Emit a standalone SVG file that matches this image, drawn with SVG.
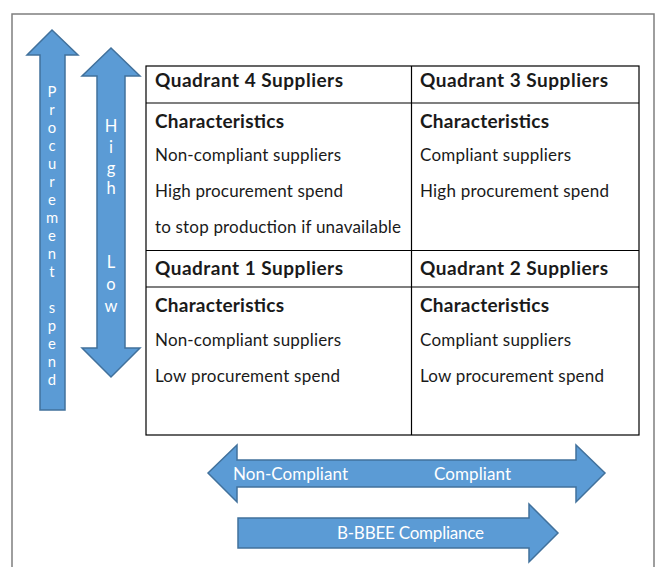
<svg xmlns="http://www.w3.org/2000/svg" width="660" height="567" viewBox="0 0 660 567">
  <defs>
    <style>
      .frame { fill: none; stroke: #7f7f7f; stroke-width: 1.5; }
      .grid { fill: none; stroke: #000; stroke-width: 1.2; }
      .arrow { fill: #5b9bd5; stroke: #41719c; stroke-width: 1.5; stroke-linejoin: miter; }
      .title { font-family: Lato, "Liberation Sans", sans-serif; font-weight: bold; font-size: 19px; fill: #1a1a1a; }
      .body { font-family: Lato, "Liberation Sans", sans-serif; font-size: 17px; fill: #1a1a1a; }
      .label { font-family: Lato, "Liberation Sans", sans-serif; font-size: 17px; fill: #ffffff; }
      .vlabel { font-family: Lato, "Liberation Sans", sans-serif; font-size: 14.8px; fill: #ffffff; text-anchor: middle; }
      .vlabel-wide { font-size: 16.5px; }
    </style>
  </defs>

  <rect x="0" y="0" width="660" height="567" fill="#ffffff"/>

  <!-- outer frame, open at the bottom -->
  <path class="frame" d="M12,570 L12,14 L654,14 L654,570"/>

  <!-- axis arrows -->
  <g id="connectors">
    <g id="axis-procurement">
      <path class="arrow" d="M52,30 L78,55 L65,55 L65,410 L40,410 L40,55 L27,55 Z"/>
      <!-- letters stacked one per line -->
      <text class="vlabel"><tspan x="52" y="97">P</tspan><tspan x="52" y="115">r</tspan><tspan x="52" y="133">o</tspan><tspan x="52" y="151">c</tspan><tspan x="52" y="169">u</tspan><tspan x="52" y="187">r</tspan><tspan x="52" y="205">e</tspan><tspan x="52" y="223">m</tspan><tspan x="52" y="241">e</tspan><tspan x="52" y="259">n</tspan><tspan x="52" y="277">t</tspan><tspan x="52" y="313">s</tspan><tspan x="52" y="331">p</tspan><tspan x="52" y="349">e</tspan><tspan x="52" y="367">n</tspan><tspan x="52" y="385">d</tspan></text>
    </g>

    <g id="axis-high-low">
      <path class="arrow" d="M111,48 L140,76 L125,76 L125,348 L140,348 L111,377 L82,348 L97,348 L97,76 L82,76 Z"/>
      <text class="vlabel vlabel-wide"><tspan x="111" y="132">H</tspan><tspan x="111" y="153">i</tspan><tspan x="111" y="174">g</tspan><tspan x="111" y="194">h</tspan><tspan x="111" y="268">L</tspan><tspan x="111" y="290">o</tspan><tspan x="111" y="312">w</tspan></text>
    </g>

    <g id="axis-compliance">
      <path class="arrow" d="M208,473 L237,445 L237,460 L576,460 L576,445 L605,473 L576,502 L576,487 L237,487 L237,502 Z"/>
      <text class="label" x="233" y="480" textLength="115">Non-Compliant</text>
      <text class="label" x="434" y="480" textLength="77">Compliant</text>
    </g>

    <g id="axis-bbbee">
      <path class="arrow" d="M238,518 L529,518 L529,504 L558,533 L529,562 L529,548 L238,548 Z"/>
      <text class="label" x="337" y="539" textLength="147">B-BBEE Compliance</text>
    </g>
  </g>

  <!-- quadrant table -->
  <g id="table">
    <rect class="grid" x="146" y="66" width="493" height="369"/>
    <line class="grid" x1="411.5" y1="66" x2="411.5" y2="435"/>
    <line class="grid" x1="146" y1="103" x2="639" y2="103"/>
    <line class="grid" x1="146" y1="250.5" x2="639" y2="250.5"/>
    <line class="grid" x1="146" y1="287" x2="639" y2="287"/>
  </g>

  <g id="quadrant-4">
    <text class="title" x="155" y="87" textLength="188">Quadrant 4 Suppliers</text>
    <text class="title" x="155" y="128" textLength="129">Characteristics</text>
    <text class="body" x="155" y="161" textLength="186">Non-compliant suppliers</text>
    <text class="body" x="155" y="197" textLength="188">High procurement spend</text>
    <text class="body" x="155" y="233" textLength="246">to stop production if unavailable</text>
  </g>

  <g id="quadrant-3">
    <text class="title" x="420" y="87" textLength="188">Quadrant 3 Suppliers</text>
    <text class="title" x="420" y="128" textLength="129">Characteristics</text>
    <text class="body" x="420" y="161" textLength="151">Compliant suppliers</text>
    <text class="body" x="420" y="197" textLength="189">High procurement spend</text>
  </g>

  <g id="quadrant-1">
    <text class="title" x="155" y="275" textLength="188">Quadrant 1 Suppliers</text>
    <text class="title" x="155" y="312" textLength="129">Characteristics</text>
    <text class="body" x="155" y="346" textLength="186">Non-compliant suppliers</text>
    <text class="body" x="155" y="382" textLength="185">Low procurement spend</text>
  </g>

  <g id="quadrant-2">
    <text class="title" x="420" y="275" textLength="188">Quadrant 2 Suppliers</text>
    <text class="title" x="420" y="312" textLength="129">Characteristics</text>
    <text class="body" x="420" y="346" textLength="151">Compliant suppliers</text>
    <text class="body" x="420" y="382" textLength="184">Low procurement spend</text>
  </g>
</svg>
